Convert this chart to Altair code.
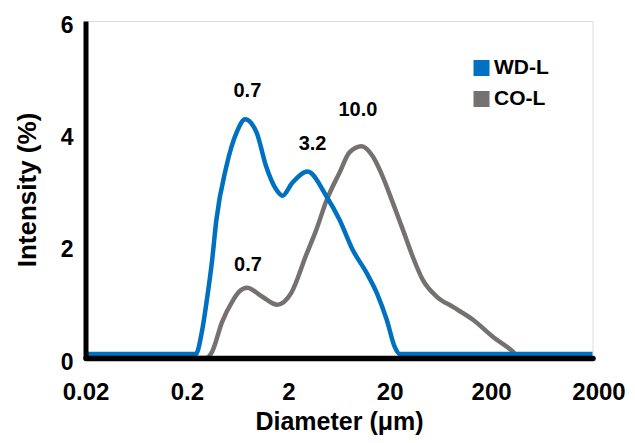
import altair as alt
import pandas as pd

series_names = ["WD-L", "CO-L"]
series_colors = ["#0070C0", "#767171"]

wd_diameter = [0.02, 0.245, 0.28, 0.315, 0.355, 0.39, 0.49, 0.62, 0.75, 0.97, 1.21,
               1.52, 1.75, 2.19, 3.1, 4.75, 6.4, 8.6, 11.8, 14.9, 18.7, 22.4, 25.1, 2000]
wd_intensity = [0.07, 0.07, 0.45, 1.04, 1.75, 2.45, 3.41, 4.02, 4.25, 4.02, 3.41,
                3.0, 2.89, 3.12, 3.32, 2.88, 2.46, 1.93, 1.52, 1.16, 0.68, 0.20, 0.07, 0.07]

co_diameter = [0.02, 0.31, 0.354, 0.444, 0.558, 0.655, 0.785, 1.11, 1.556, 2.14, 3.01,
               3.79, 4.75, 6.40, 8.03, 10.56, 13.6, 17.05, 21.4, 26.9, 33.8, 42.4, 58.4,
               84.1, 132.7, 209, 330, 380, 2000]
co_intensity = [0, 0, 0.11, 0.64, 1.0, 1.18, 1.25, 1.09, 0.95, 1.16, 1.84,
                2.29, 2.8, 3.30, 3.66, 3.77, 3.59, 3.23, 2.77, 2.29, 1.80, 1.39, 1.09,
                0.91, 0.68, 0.375, 0.11, 0, 0]

ann_text = ["0.7", "3.2", "10.0", "0.7"]
ann_diameter = [0.79, 3.47, 9.73, 0.80]
ann_intensity = [4.76, 3.81, 4.42, 1.66]

x_ticks = [0.02, 0.2, 2, 20, 200, 2000]
y_ticks = [0, 2, 4, 6]

FONT = "Liberation Sans"

wd = pd.DataFrame({"diameter": wd_diameter, "intensity": wd_intensity, "series": series_names[0]})
co = pd.DataFrame({"diameter": co_diameter, "intensity": co_intensity, "series": series_names[1]})
ann = pd.DataFrame({"diameter": ann_diameter, "intensity": ann_intensity, "label": ann_text})

x_enc = alt.X(
    "diameter:Q",
    scale=alt.Scale(type="log", domain=[0.02, 2000], nice=False),
    title="Diameter (μm)",
    axis=alt.Axis(
        values=x_ticks, format="~g", labelFlush=False, labelOverlap=False,
        ticks=False, tickSize=0, grid=False,
        domainColor="black", domainWidth=5.5, domainCap="round",
        labelFont=FONT, labelFontSize=24, labelFontWeight="bold", labelColor="black",
        labelPadding=22,
        labelOffset={"condition": {"test": "datum.value >= 1000", "value": 6}, "value": 0},
        titleFont=FONT, titleFontSize=25, titleFontWeight="bold", titleColor="black",
        titlePadding=5, zindex=1,
    ),
)
y_enc = alt.Y(
    "intensity:Q",
    scale=alt.Scale(domain=[0, 6], nice=False),
    title="Intensity (%)",
    axis=alt.Axis(
        values=y_ticks, format="d", labelFlush=False, labelOverlap=False,
        ticks=False, tickSize=0, grid=False,
        domainColor="black", domainWidth=5,
        labelFont=FONT, labelFontSize=23, labelFontWeight="bold", labelColor="black",
        labelPadding=12.5, labelOffset=4,
        titleFont=FONT, titleFontSize=26, titleFontWeight="bold", titleColor="black",
        titlePadding=20, zindex=1,
    ),
)
color_enc = alt.Color(
    "series:N",
    scale=alt.Scale(domain=series_names, range=series_colors),
    legend=alt.Legend(
        title=None, orient="none", legendX=385.5, legendY=36.5,
        symbolType="square", symbolSize=64, symbolStrokeWidth=8, symbolOpacity=1,
        labelFont=FONT, labelFontSize=21, labelFontWeight="bold", labelColor="black",
        labelOffset=2, rowPadding=-19, padding=0,
    ),
)

line_co = alt.Chart(co).mark_line(strokeWidth=4.5, interpolate="monotone").encode(
    x=x_enc, y=y_enc, color=color_enc)
line_wd = alt.Chart(wd).mark_line(strokeWidth=4.5, interpolate="monotone").encode(
    x=x_enc, y=y_enc, color=color_enc)
labels = alt.Chart(ann).mark_text(
    font=FONT, fontSize=20, fontWeight="bold", color="black", align="center", baseline="middle"
).encode(x=alt.X("diameter:Q"), y=alt.Y("intensity:Q"), text="label:N")

chart = alt.layer(line_co, line_wd, labels).properties(
    width=507, height=337,
    autosize=alt.AutoSizeParams(type="none"),
    padding={"left": 77.5, "top": 13, "right": 34.5, "bottom": 77},
).configure_view(stroke=None).configure(background="white")

chart.save("out.html", embed_options={"renderer": "svg", "actions": False})
